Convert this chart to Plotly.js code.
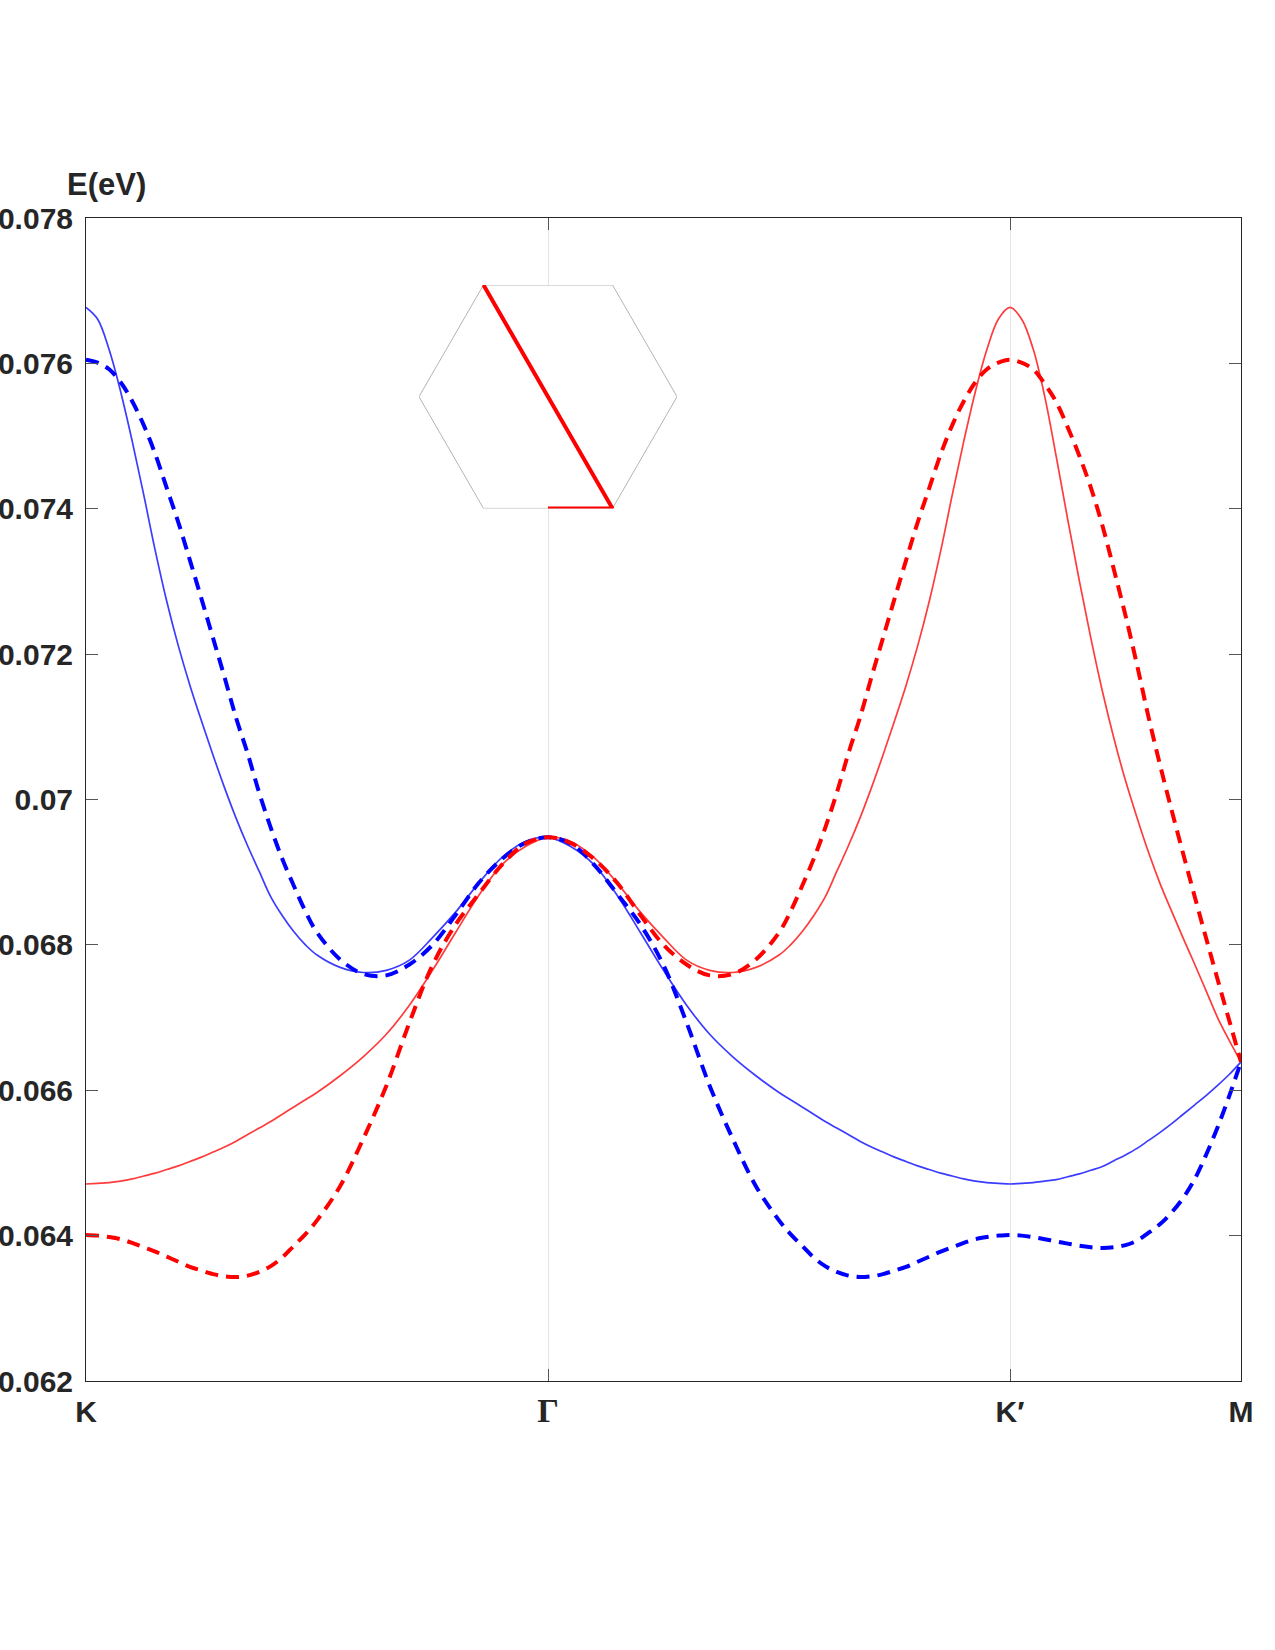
<!DOCTYPE html>
<html><head><meta charset="utf-8">
<script src="https://cdn.plot.ly/plotly-3.0.1.min.js"></script>
<style>body{margin:0;background:#fff}</style>
</head><body><div id="chart" style="width:1275px;height:1650px"></div>
<script>
// path coordinate: K=0, Γ=1, K'=2, M=2.5
const pathT = [0,0.025,0.05,0.075,0.1,0.125,0.15,0.175,0.2,0.225,0.25,0.275,0.3,0.325,0.35,0.375,0.4,0.425,0.45,0.475,0.5,
  0.55,0.6,0.65,0.7,0.75,0.8,0.85,0.9,0.95,1,1.05,1.1,1.15,1.2,1.25,1.3,1.35,1.4,1.45,
  1.5,1.525,1.55,1.575,1.6,1.625,1.65,1.675,1.7,1.725,1.75,1.775,1.8,1.825,1.85,1.875,1.9,1.925,1.95,1.975,2,
  2.025,2.05,2.075,2.1,2.125,2.15,2.175,2.2,2.225,2.25,2.275,2.3,2.325,2.35,2.375,2.4,2.425,2.45,2.475,2.5];

const blueSolid = [0.07677,0.07661,0.07619,0.07561,0.07493,0.07419,0.07342,0.07272,0.07211,0.07157,0.07108,0.07061,0.07016,0.06974,0.06936,0.06901,0.06866,0.06840,0.06818,0.06800,0.06786,
  0.06769,0.06762,0.06765,0.06779,0.06810,0.06845,0.06885,0.06920,0.06942,0.06948,0.06935,0.06910,0.06868,0.06817,0.06765,0.06717,0.06677,0.06646,0.06620,
  0.06597,0.06587,0.06577,0.06567,0.06557,0.06548,0.06539,0.06530,0.06522,0.06515,0.06508,0.06502,0.06496,0.06491,0.06486,0.06482,0.06478,0.06475,0.06473,0.06472,0.06471,
  0.06472,0.06473,0.06475,0.06477,0.06481,0.06485,0.06490,0.06495,0.06503,0.06511,0.06520,0.06531,0.06542,0.06554,0.06567,0.06580,0.06593,0.06607,0.06622,0.06639];

const redSolid = [0.06471,0.06472,0.06473,0.06475,0.06478,0.06482,0.06486,0.06491,0.06496,0.06502,0.06508,0.06515,0.06522,0.06530,0.06539,0.06548,0.06557,0.06567,0.06577,0.06587,0.06597,
  0.06620,0.06646,0.06677,0.06717,0.06765,0.06817,0.06868,0.06910,0.06935,0.06948,0.06942,0.06920,0.06885,0.06845,0.06810,0.06779,0.06765,0.06762,0.06769,
  0.06786,0.06800,0.06818,0.06840,0.06866,0.06901,0.06936,0.06974,0.07016,0.07061,0.07108,0.07157,0.07211,0.07272,0.07342,0.07419,0.07493,0.07561,0.07619,0.07661,0.07677,
  0.07661,0.07620,0.07555,0.07472,0.07385,0.07301,0.07222,0.07149,0.07084,0.07026,0.06975,0.06927,0.06884,0.06846,0.06809,0.06773,0.06736,0.06699,0.06668,0.06639];

const blueDashed = [0.07605,0.07601,0.07592,0.07574,0.07548,0.07515,0.07475,0.07428,0.07381,0.07329,0.07276,0.07222,0.07168,0.07112,0.07063,0.07009,0.06961,0.06918,0.06881,0.06846,0.06817,
  0.06780,0.06760,0.06758,0.06773,0.06800,0.06841,0.06885,0.06918,0.06940,0.06948,0.06939,0.06910,0.06870,0.06828,0.06772,0.06693,0.06606,0.06533,0.06468,
  0.06421,0.06402,0.06386,0.06370,0.06358,0.06350,0.06345,0.06343,0.06344,0.06347,0.06352,0.06357,0.06364,0.06371,0.06378,0.06384,0.06390,0.06395,0.06398,0.06400,0.06401,
  0.06400,0.06398,0.06395,0.06392,0.06389,0.06386,0.06384,0.06383,0.06384,0.06387,0.06393,0.06404,0.06416,0.06432,0.06452,0.06478,0.06512,0.06550,0.06593,0.06639];

const redDashed = [0.06401,0.06400,0.06398,0.06395,0.06390,0.06384,0.06378,0.06371,0.06364,0.06357,0.06352,0.06347,0.06344,0.06343,0.06345,0.06350,0.06358,0.06370,0.06386,0.06402,0.06421,
  0.06468,0.06533,0.06606,0.06693,0.06772,0.06828,0.06870,0.06910,0.06939,0.06948,0.06940,0.06918,0.06885,0.06841,0.06800,0.06773,0.06758,0.06760,0.06780,
  0.06817,0.06846,0.06881,0.06918,0.06961,0.07009,0.07063,0.07112,0.07168,0.07222,0.07276,0.07329,0.07381,0.07428,0.07475,0.07515,0.07548,0.07574,0.07592,0.07601,0.07605,
  0.07601,0.07592,0.07572,0.07547,0.07512,0.07473,0.07429,0.07377,0.07316,0.07253,0.07185,0.07113,0.07047,0.06985,0.06925,0.06866,0.06808,0.06751,0.06695,0.06639];

const xTickVals = [0, 1, 2, 2.5];
const xTickText = ['K', '<span style="font-family:\'Liberation Serif\',serif;font-size:34px">Γ</span>', 'K′', 'M'];
const yTickVals = [0.062,0.064,0.066,0.068,0.070,0.072,0.074,0.076,0.078];
const yTickText = ['0.062','0.064','0.066','0.068','0.07','0.072','0.074','0.076','0.078'];

// Brillouin-zone inset
const hexX = [1, 0.5, -0.5, -1, -0.5, 0.5, 1];
const hexY = [0, 0.8660254, 0.8660254, 0, -0.8660254, -0.8660254, 0];
const bzPathX = [-0.5, 0, 0.5, 0];
const bzPathY = [0.8660254, 0, -0.8660254, -0.8660254];

const tickFont = {family: 'Liberation Sans, Arial, sans-serif', size: 30, color: '#262626', weight: 'bold'};
const sm = {shape: 'spline', smoothing: 1};

const traces = [
  {x: pathT, y: blueSolid, mode: 'lines', line: Object.assign({color: 'rgb(60,60,255)', width: 1.7}, sm)},
  {x: pathT, y: redSolid, mode: 'lines', line: Object.assign({color: 'rgb(255,60,60)', width: 1.7}, sm)},
  {x: pathT, y: blueDashed, mode: 'lines', line: Object.assign({color: 'rgb(0,0,255)', width: 4, dash: '13px,8px'}, sm)},
  {x: pathT, y: redDashed, mode: 'lines', line: Object.assign({color: 'rgb(255,0,0)', width: 4, dash: '13px,8px'}, sm)},
  {x: hexX, y: hexY, xaxis: 'x2', yaxis: 'y2', mode: 'lines', line: {color: 'rgb(180,180,180)', width: 1}},
  {x: bzPathX, y: bzPathY, xaxis: 'x2', yaxis: 'y2', mode: 'lines', line: {color: 'rgb(255,0,0)', width: 4}}
];

const layout = {
  width: 1275, height: 1650,
  margin: {l: 86, r: 34, t: 218, b: 269},
  paper_bgcolor: '#fff', plot_bgcolor: '#fff',
  showlegend: false,
  xaxis: {
    range: [0, 2.5], tickvals: xTickVals, ticktext: xTickText,
    showgrid: true, gridcolor: 'rgb(228,228,228)', gridwidth: 1,
    zeroline: false, showline: true, linecolor: '#262626', linewidth: 1, mirror: 'ticks',
    ticks: 'inside', ticklen: 12, tickcolor: '#555', tickfont: tickFont, ticklabelstandoff: 4
  },
  yaxis: {
    range: [0.062, 0.078], tickvals: yTickVals, ticktext: yTickText,
    showgrid: false, zeroline: false, showline: true, linecolor: '#262626', linewidth: 1, mirror: 'ticks',
    ticks: 'inside', ticklen: 12, tickcolor: '#555', tickfont: tickFont, ticklabelstandoff: 6
  },
  xaxis2: {domain: [0.2883, 0.5117], range: [-1, 1], anchor: 'y2', visible: false, fixedrange: true},
  yaxis2: {domain: [0.7503, 0.9424], range: [-0.8660254, 0.8660254], anchor: 'x2', visible: false, fixedrange: true},
  annotations: [
    {text: 'E(eV)', xref: 'paper', yref: 'paper', x: -0.018, y: 1.012, xanchor: 'left', yanchor: 'bottom',
     showarrow: false, font: {family: 'Liberation Sans, Arial, sans-serif', size: 31, color: '#262626', weight: 'bold'}}
  ]
};

Plotly.newPlot('chart', traces, layout, {displayModeBar: false, staticPlot: true});
</script>
</body></html>
